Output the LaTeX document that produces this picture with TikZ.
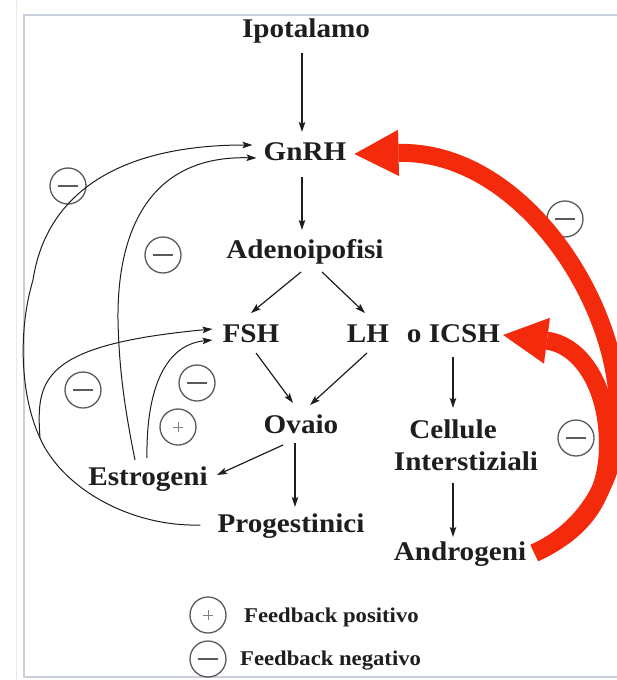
\documentclass[tikz,border=0pt]{standalone}
\usepackage{fontspec}
\newfontfamily\labfont[FakeStretch=1.08]{Liberation Serif}
\usetikzlibrary{arrows.meta,calc}
\definecolor{ink}{HTML}{1E1E1E}
\definecolor{redarc}{HTML}{F42A0C}
\definecolor{framec}{HTML}{C9D0DA}
\definecolor{circ}{HTML}{5A5A5A}
\begin{document}
\begin{tikzpicture}[x=1pt,y=-1pt,
  lab/.style={font=\labfont\bfseries\fontsize{27}{30}\selectfont, text=ink, inner sep=0pt, anchor=base},
  leg/.style={font=\labfont\bfseries\fontsize{21}{24}\selectfont, text=ink, inner sep=0pt, anchor=base west},
  arr/.style={draw=ink, line width=1.2pt, -{Stealth[length=10pt,width=6.5pt,inset=2pt]}},
  fb/.style={draw=ink, line width=1pt, -{Stealth[length=10pt,width=6.5pt,inset=2pt]}},
  fbline/.style={draw=ink, line width=1pt},
  big/.style={draw=redarc, line width=18pt, line cap=butt, -{Triangle[length=44pt,width=46pt,line width=0.1pt]}},
  sign/.style={circle, draw=circ, line width=1.3pt, minimum size=36pt, inner sep=0pt},
  negfb/.style={sign, path picture={\draw[circ, line width=1.6pt] ([xshift=-10pt]path picture bounding box.center) -- ([xshift=10pt]path picture bounding box.center);}},
  posfb/.style={sign, path picture={\draw[circ!75, line width=1pt] ([xshift=-5pt]path picture bounding box.center) -- ([xshift=5pt]path picture bounding box.center) ([yshift=-5pt]path picture bounding box.center) -- ([yshift=5pt]path picture bounding box.center);}},
]
\useasboundingbox (0,0) rectangle (616,680);
\fill[white] (0,0) rectangle (616,680);
\draw[framec!45, line width=1pt] (16,0) -- (16,680);
\draw[framec, line width=1.5pt] (617,15) -- (24,15) -- (24,677) -- (617,677);

% labels
\node[lab] (ipo) at (306,37) {Ipotalamo};
\node[lab] (gnrh) at (305,160) {GnRH};
\node[lab] (ade) at (305,258) {Adenoipofisi};
\node[lab] (fsh) at (251,342) {FSH};
\node[lab] (lh) at (368,342) {LH};
\node[lab] (icsh) at (453.5,342) {o ICSH};
\node[lab] (ovaio) at (301,433) {Ovaio};
\node[lab] (cell) at (453,438) {Cellule};
\node[lab] (inter) at (466,470) {Interstiziali};
\node[lab] (andro) at (460,560) {Androgeni};
\node[lab] (estro) at (148,485) {Estrogeni};
\node[lab] (prog) at (291,532) {Progestinici};

% feedback signs
\node[negfb] (m1) at (68,186) {};
\node[negfb] (m2) at (163,255) {};
\node[negfb] (m3) at (83,390) {};
\node[negfb] (m4) at (197,383) {};
\node[posfb] (p1) at (178,427) {};
\node[negfb] (m5) at (565,219) {};
\node[negfb] (m6) at (576,438) {};

% legend
\node[posfb] (lp) at (208,615) {};
\node[negfb] (ln) at (208,659) {};
\node[leg] (lpt) at (244,622) {Feedback positivo};
\node[leg] (lnt) at (240,665) {Feedback negativo};

% main arrows
\draw[arr] ($(ipo.base)+(-4,16)$) -- ($(gnrh.base)+(-3,-28)$);
\draw[arr] ($(gnrh.base)+(-3,17)$) -- ($(ade.base)+(-3,-28)$);
\draw[arr] ($(ade.base)+(-4,14)$) -- ($(fsh.base)+(0,-29)$);
\draw[arr] ($(ade.base)+(17,14)$) -- ($(lh.base)+(-3,-29)$);
\draw[arr] ($(fsh.base)+(5,11)$) -- ($(ovaio.base)+(-8,-30)$);
\draw[arr] ($(lh.base)+(-1,11)$) -- ($(ovaio.base)+(9,-28)$);
\draw[arr] ($(icsh.base)+(-0.5,15)$) -- ($(cell.base)+(0,-30)$);
\draw[arr] ($(inter.base)+(-13,13)$) -- ($(andro.base)+(-7,-23)$);
\draw[arr] ($(ovaio.base)+(-18,12)$) -- ($(estro.base)+(69,-10)$);
\draw[arr] ($(ovaio.base)+(-6,10)$) -- ($(prog.base)+(4,-25)$);

% progestinici feedback
\coordinate (J) at (40,438);
\draw[fbline] ($(prog.base west)+(-17,-7)$) .. controls (130,527) and (62,488) .. (J);
\draw[fb] (J) .. controls (20,395) and (18,330) .. (33,280)
  .. controls (45,200) and (110,145) .. ($(gnrh.base west)+(-11,-15)$);
\draw[fb] (J) .. controls (36,380) and (40,345) .. ($(fsh.base west)+(-10,-13)$);

% estrogeni feedback
\draw[fb] ($(estro.base)+(-13,-25)$) .. controls (125,410) and (119,370) .. (118,320)
  .. controls (117,230) and (150,155) .. ($(gnrh.base west)+(-7,-2)$);
\draw[fb] ($(estro.base)+(-1,-27)$) .. controls (146,400) and (160,345) .. ($(fsh.base west)+(-10,-2)$);

% androgeni feedback (red)
\coordinate (A) at ($(andro.base east)+(8,-7)$);
\draw[big] (A) .. controls (585,530) and (618,480) .. (618,410)
  .. controls (618,300) and (520,150) .. ($(gnrh.base east)+(8,-6)$);
\draw[big] (A) .. controls (585,530) and (608,495) .. (608,445)
  .. controls (608,385) and (580,345) .. ($(icsh.base east)+(3,-7)$);
\end{tikzpicture}
\end{document}
